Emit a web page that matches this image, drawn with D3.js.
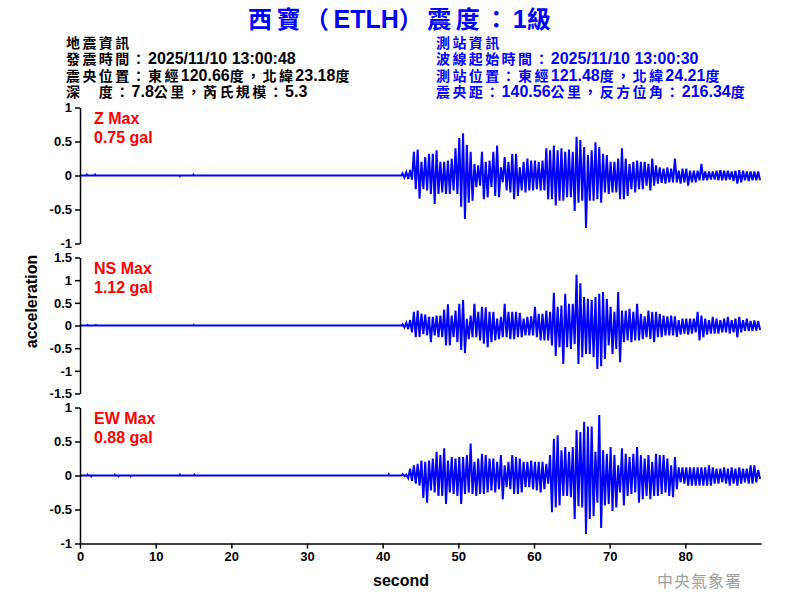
<!DOCTYPE html>
<html>
<head>
<meta charset="utf-8">
<script src="https://cdn.jsdelivr.net/npm/d3@7"></script>
<style>
  body { margin: 0; background: #fff; }
  svg text { font-family: "Liberation Sans", Arial, "Noto Sans CJK TC", sans-serif; font-weight: bold; }
</style>
</head>
<body>
<svg id="chart" width="800" height="600"></svg>
<script>
// ---- data ----
const titleText = "西寶（ETLH）震度：1級";
const leftInfo = ["地震資訊", "發震時間：2025/11/10 13:00:48", "震央位置：東經120.66度，北緯23.18度", "深　度：7.8公里，芮氏規模：5.3"];
const rightInfo = ["測站資訊", "波線起始時間：2025/11/10 13:00:30", "測站位置：東經121.48度，北緯24.21度", "震央距：140.56公里，反方位角：216.34度"];

const xTicks = [0, 10, 20, 30, 40, 50, 60, 70, 80];
const yTicks1 = [1, 0.5, 0, -0.5, -1];
const yTicks15 = [1.5, 1, 0.5, 0, -0.5, -1, -1.5];

// waveform: peak high / low per 0.5 s bin, from 42.5 s to 90 s
const eventStart = 42.5;
const binWidth = 0.5;

const zHi = [0.03,0.05,0.08,0.35,0.38,0.2,0.27,0.32,0.32,0.37,
  0.2,0.2,0.22,0.25,0.4,0.55,0.62,0.45,0.35,0.17,
  0.15,0.35,0.2,0.22,0.35,0.44,0.12,0.27,0.2,0.32,
  0.32,0.12,0.2,0.25,0.22,0.22,0.2,0.22,0.4,0.37,
  0.44,0.37,0.4,0.35,0.38,0.35,0.57,0.52,0.42,0.3,
  0.37,0.49,0.42,0.32,0.3,0.2,0.2,0.25,0.4,0.25,
  0.17,0.2,0.22,0.2,0.2,0.17,0.25,0.15,0.12,0.1,
  0.12,0.1,0.25,0.07,0.1,0.1,0.07,0.07,0.07,0.17,
  0.06,0.06,0.06,0.07,0.08,0.07,0.07,0.06,0.07,0.08,
  0.07,0.06,0.06,0.06,0.06];
const zLo = [-0.03,-0.05,-0.06,-0.2,-0.34,-0.2,-0.22,-0.27,-0.42,-0.27,
  -0.25,-0.27,-0.27,-0.22,-0.27,-0.46,-0.64,-0.4,-0.37,-0.17,
  -0.15,-0.35,-0.32,-0.17,-0.3,-0.32,-0.1,-0.22,-0.25,-0.35,
  -0.3,-0.22,-0.25,-0.22,-0.22,-0.2,-0.22,-0.22,-0.35,-0.35,
  -0.44,-0.37,-0.37,-0.32,-0.32,-0.52,-0.4,-0.37,-0.77,-0.37,
  -0.37,-0.35,-0.4,-0.25,-0.27,-0.25,-0.25,-0.35,-0.35,-0.3,
  -0.2,-0.25,-0.2,-0.2,-0.15,-0.22,-0.15,-0.12,-0.11,-0.12,
  -0.1,-0.1,-0.1,-0.12,-0.1,-0.15,-0.1,-0.1,-0.07,-0.07,
  -0.07,-0.06,-0.06,-0.07,-0.07,-0.07,-0.06,-0.08,-0.12,-0.1,
  -0.07,-0.08,-0.07,-0.07,-0.07];

const nsHi = [0.03,0.06,0.12,0.3,0.33,0.26,0.24,0.19,0.19,0.22,
  0.22,0.35,0.47,0.22,0.33,0.48,0.56,0.15,0.22,0.48,
  0.3,0.41,0.4,0.3,0.3,0.15,0.19,0.48,0.3,0.3,
  0.3,0.28,0.15,0.19,0.2,0.41,0.26,0.26,0.33,0.3,
  0.72,0.41,0.44,0.7,0.48,0.48,1.12,0.93,0.63,0.59,
  0.56,0.63,0.7,0.74,0.59,0.41,0.3,0.74,0.33,0.33,
  0.37,0.3,0.48,0.26,0.2,0.33,0.3,0.3,0.26,0.22,
  0.2,0.22,0.2,0.12,0.15,0.15,0.15,0.15,0.3,0.22,
  0.15,0.12,0.19,0.15,0.12,0.15,0.19,0.12,0.15,0.19,
  0.12,0.15,0.1,0.11,0.1];
const nsLo = [-0.04,-0.08,-0.15,-0.26,-0.25,-0.19,-0.22,-0.37,-0.22,-0.26,
  -0.26,-0.44,-0.44,-0.26,-0.37,-0.54,-0.61,-0.3,-0.26,-0.26,
  -0.33,-0.4,-0.48,-0.37,-0.33,-0.3,-0.26,-0.26,-0.3,-0.3,
  -0.26,-0.26,-0.22,-0.22,-0.22,-0.26,-0.33,-0.33,-0.33,-0.44,
  -0.67,-0.48,-0.85,-0.48,-0.52,-0.41,-0.85,-0.7,-0.63,-0.63,
  -0.7,-0.96,-0.9,-0.74,-0.44,-0.63,-0.52,-0.81,-0.37,-0.33,
  -0.37,-0.33,-0.33,-0.3,-0.26,-0.3,-0.37,-0.26,-0.26,-0.22,
  -0.22,-0.22,-0.25,-0.2,-0.18,-0.2,-0.18,-0.15,-0.33,-0.26,
  -0.2,-0.18,-0.18,-0.18,-0.15,-0.15,-0.18,-0.15,-0.26,-0.15,
  -0.12,-0.12,-0.12,-0.11,-0.1];

const ewHi = [0.02,0.01,0.1,0.15,0.17,0.22,0.2,0.22,0.25,0.35,
  0.3,0.4,0.22,0.27,0.25,0.27,0.27,0.3,0.47,0.2,
  0.25,0.32,0.3,0.25,0.25,0.2,0.3,0.15,0.2,0.3,
  0.27,0.25,0.2,0.2,0.22,0.2,0.2,0.2,0.17,0.3,
  0.54,0.59,0.37,0.42,0.35,0.42,0.67,0.64,0.79,0.72,
  0.72,0.35,0.89,0.37,0.32,0.42,0.3,0.15,0.4,0.32,
  0.27,0.32,0.42,0.3,0.25,0.3,0.2,0.32,0.3,0.3,
  0.25,0.15,0.27,0.12,0.12,0.12,0.12,0.12,0.12,0.12,
  0.12,0.15,0.12,0.1,0.1,0.12,0.1,0.12,0.1,0.12,
  0.1,0.1,0.15,0.15,0.08];
const ewLo = [-0.01,-0.04,-0.08,-0.12,-0.15,-0.33,-0.4,-0.22,-0.25,-0.3,
  -0.3,-0.42,-0.25,-0.27,-0.3,-0.42,-0.27,-0.25,-0.27,-0.3,
  -0.27,-0.27,-0.25,-0.22,-0.25,-0.2,-0.35,-0.17,-0.2,-0.27,
  -0.27,-0.25,-0.17,-0.17,-0.2,-0.22,-0.25,-0.2,-0.12,-0.54,
  -0.47,-0.44,-0.3,-0.3,-0.32,-0.64,-0.45,-0.47,-0.86,-0.64,
  -0.6,-0.4,-0.77,-0.44,-0.42,-0.52,-0.47,-0.25,-0.44,-0.3,
  -0.27,-0.25,-0.4,-0.35,-0.3,-0.35,-0.3,-0.3,-0.27,-0.25,
  -0.3,-0.32,-0.2,-0.1,-0.12,-0.15,-0.15,-0.15,-0.15,-0.15,
  -0.15,-0.15,-0.12,-0.12,-0.1,-0.12,-0.15,-0.12,-0.15,-0.12,
  -0.1,-0.12,-0.12,-0.1,-0.05];

// tiny blips before the P arrival [second, value]
const zPre = [[0.9, 0.012], [2.0, 0.012], [13.2, -0.01], [15.0, 0.012]];
const nsPre = [[1.0, 0.01], [2.1, 0.01], [15.0, 0.012]];
const ewPre = [[1.0, 0.012], [1.5, -0.012], [4.6, 0.01], [5.1, -0.01], [6.7, -0.01], [13.2, 0.012], [15.1, 0.012], [40.8, 0.015]];

const channels = [
  {label: "Z Max", max: "0.75 gal", hi: zHi, lo: zLo, pre: zPre, domain: [-1, 1], ticks: yTicks1},
  {label: "NS Max", max: "1.12 gal", hi: nsHi, lo: nsLo, pre: nsPre, domain: [-1.5, 1.5], ticks: yTicks15},
  {label: "EW Max", max: "0.88 gal", hi: ewHi, lo: ewLo, pre: ewPre, domain: [-1, 1], ticks: yTicks1}
];

// ---- layout ----
const panelTop = [107.5, 257.5, 407.5];
const panelHeight = 136;
const svg = d3.select("#chart");
const x = d3.scaleLinear().domain([0, 90]).range([80, 761]);

function buildSeries(ch) {
  const pts = [[0, 0]];
  ch.pre.forEach(([t, v]) => { pts.push([t - 0.06, 0], [t, v], [t + 0.06, 0]); });
  pts.push([eventStart, 0]);
  ch.hi.forEach((h, i) => {
    const t0 = eventStart + i * binWidth;
    pts.push([t0 + binWidth * 0.25, h], [t0 + binWidth * 0.75, ch.lo[i]]);
  });
  return pts;
}

// chinese runs and latin runs get their own size (the original font is wider for CJK)
function addRuns(sel, str, cjkSize, latinSize, cjkSpacing) {
  str.split(/([\x20-\x7E]+)/).filter(s => s.length).forEach(s => {
    const latin = /^[\x20-\x7E]+$/.test(s);
    sel.append("tspan")
      .style("font-size", (latin ? latinSize : cjkSize) + "px")
      .attr("letter-spacing", latin ? 0 : cjkSpacing)
      .text(s);
  });
}

// title
const title = svg.append("text")
  .attr("x", 248).attr("y", 28)
  .attr("fill", "#0000ff");
addRuns(title, titleText, 24, 25, 4.5);

// info blocks
[[leftInfo, 66, "#000"], [rightInfo, 436, "#0000ff"]].forEach(([lines, x0, col]) => {
  lines.forEach((d, i) => {
    const t = svg.append("text")
      .attr("x", x0)
      .attr("y", 47.5 + i * 16.6)
      .attr("fill", col);
    addRuns(t, d, 14, 16, 2.4);
  });
});

channels.forEach((ch, k) => {
  const top = panelTop[k];
  const y = d3.scaleLinear().domain(ch.domain).range([top + panelHeight, top]);
  const g = svg.append("g");

  // waveform
  const line = d3.line().x(d => x(d[0])).y(d => y(d[1]));
  g.append("path")
    .datum(buildSeries(ch))
    .attr("d", line)
    .attr("fill", "none")
    .attr("stroke", "#0000ff")
    .attr("stroke-width", 2);

  // y axis
  const ax = g.append("g")
    .attr("transform", "translate(80,0)")
    .call(d3.axisLeft(y).tickValues(ch.ticks).tickSize(5).tickSizeOuter(0).tickFormat(d => String(d)));
  ax.select(".domain").attr("stroke-width", 1.5);
  ax.selectAll(".tick line").attr("stroke-width", 1.5);
  ax.selectAll("text").style("font-size", "13px").attr("fill", "#000");

  // labels
  g.append("text").attr("x", 94).attr("y", top + 16).attr("fill", "#ff0000").style("font-size", "16px").text(ch.label);
  g.append("text").attr("x", 94).attr("y", top + 35).attr("fill", "#ff0000").style("font-size", "16px").text(ch.max);
});

// x axis
const xa = svg.append("g")
  .attr("transform", `translate(0,${panelTop[2] + panelHeight})`)
  .call(d3.axisBottom(x).tickValues(xTicks).tickSize(5).tickSizeOuter(0));
xa.select(".domain").attr("stroke-width", 1.5);
xa.selectAll(".tick line").attr("stroke-width", 1.5);
xa.selectAll("text").style("font-size", "13px").attr("fill", "#000");

svg.append("text")
  .attr("x", 401).attr("y", 586)
  .attr("text-anchor", "middle")
  .style("font-size", "16px")
  .text("second");

svg.append("text")
  .attr("transform", "translate(37,301.5) rotate(-90)")
  .attr("text-anchor", "middle")
  .style("font-size", "16px")
  .text("acceleration");

svg.append("text")
  .attr("x", 657).attr("y", 587)
  .attr("fill", "#a0a0a0")
  .attr("letter-spacing", 1)
  .style("font-size", "16px")
  .style("font-weight", "normal")
  .text("中央氣象署");
</script>
</body>
</html>
